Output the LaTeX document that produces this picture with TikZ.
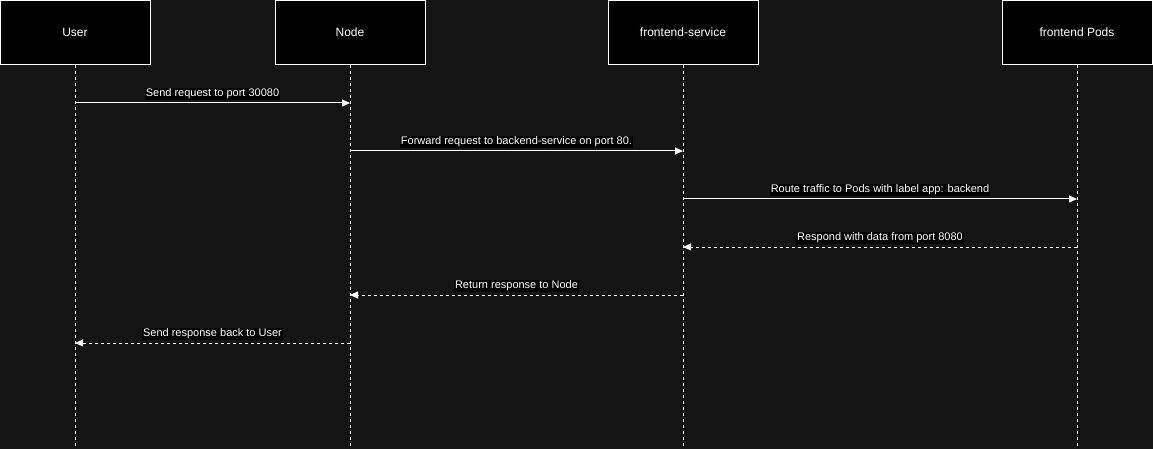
\documentclass[tikz,border=0pt]{standalone}
\usepackage{fontspec}
\setmainfont{Liberation Sans}
\usetikzlibrary{arrows.meta}
\definecolor{bgc}{HTML}{141414}
\tikzset{
  actor/.style={draw=white, fill=black, line width=1pt, minimum width=150pt, minimum height=64pt, inner sep=0pt, text=white, font=\fontsize{12pt}{14pt}\selectfont},
  life/.style={draw=white, line width=1pt, dash pattern=on 3pt off 3pt},
  msg/.style={draw=white, line width=1pt, -{Triangle[length=8pt,width=7pt]}},
  ret/.style={msg, dash pattern=on 3pt off 3pt},
  lbl/.style={fill=black, text=white, inner sep=1pt, font=\fontsize{11pt}{13pt}\selectfont}
}
\begin{document}
\begin{tikzpicture}[x=1pt,y=-1pt]
\fill[bgc] (0,0) rectangle (1153,449);
\useasboundingbox (0,0) rectangle (1153,449);
\node[actor] (user) at (75,32.5) {User};
\node[actor] (node) at (350,32.5) {Node};
\node[actor] (svc) at (683,32.5) {frontend-service};
\node[actor] (pods) at (1077,32.5) {frontend Pods};
\coordinate (ue) at (75,449);
\coordinate (ne) at (350,449);
\coordinate (se) at (683,449);
\coordinate (pe) at (1077,449);
\draw[life] (user.south) -- (ue);
\draw[life] (node.south) -- (ne);
\draw[life] (svc.south) -- (se);
\draw[life] (pods.south) -- (pe);
% messages
\coordinate (u1) at (75,103); \coordinate (n1) at (350,103);
\coordinate (n2) at (350,151); \coordinate (s2) at (683,151);
\coordinate (s3) at (683,199); \coordinate (p3) at (1077,199);
\coordinate (p4) at (1077,247); \coordinate (s4) at (683,247);
\coordinate (s5) at (683,295); \coordinate (n5) at (350,295);
\coordinate (n6) at (350,343); \coordinate (u6) at (75,343);
\draw[msg] (u1) -- (n1);
\node[lbl] (l1) at (212.5,94) {Send request to port 30080};
\draw[msg] (n2) -- (s2);
\node[lbl] (l2) at (516.5,142) {Forward request to backend-service on port 80.};
\draw[msg] (s3) -- (p3);
\node[lbl] (l3) at (880,190) {Route traffic to Pods with label app: backend};
\draw[ret] (p4) -- (s4);
\node[lbl] (l4) at (880,238) {Respond with data from port 8080};
\draw[ret] (s5) -- (n5);
\node[lbl] (l5) at (516.5,286) {Return response to Node};
\draw[ret] (n6) -- (u6);
\node[lbl] (l6) at (212.5,334) {Send response back to User};
\end{tikzpicture}
\end{document}
